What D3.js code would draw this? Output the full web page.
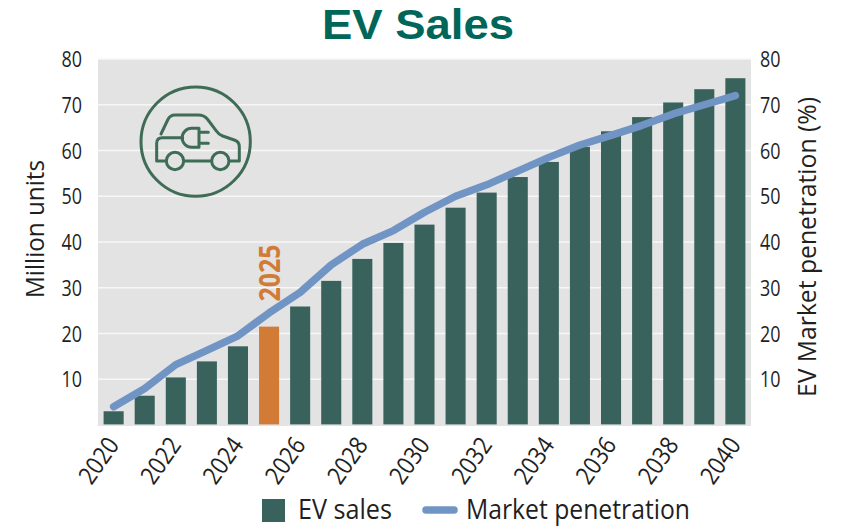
<!DOCTYPE html>
<html><head><meta charset="utf-8">
<script src="https://cdn.jsdelivr.net/npm/d3@7/dist/d3.min.js"></script>
<style>html,body{margin:0;padding:0;background:#fff}svg{display:block}text{font-family:"Open Sans",sans-serif;fill:#1f1f1f}</style>
</head><body><svg id="c" width="844" height="527"></svg>
<script>
const years=[2020,2021,2022,2023,2024,2025,2026,2027,2028,2029,2030,2031,2032,2033,2034,2035,2036,2037,2038,2039,2040];
const evSales=[3,6.4,10.4,13.9,17.2,21.5,25.9,31.5,36.3,39.8,43.8,47.5,50.8,54.2,57.5,60.8,64.2,67.3,70.5,73.4,75.8];
const penetration=[4,8,13.2,16.3,19.5,24.5,29,35,39.5,42.5,46.5,50,52.5,55.5,58.5,61.2,63.3,65.5,68,70,72];
const yTicks=[10,20,30,40,50,60,70,80];
const xTickYears=[2020,2022,2024,2026,2028,2030,2032,2034,2036,2038,2040];
const highlightYear=2025;

const svg=d3.select("#c");
const L=98,R=751,T=59,B=425;
const x=d3.scaleBand().domain(years).range([L,R]).paddingInner(0.355).paddingOuter(0.18);
const y=d3.scaleLinear().domain([0,80]).range([B,T]);
const green="#3a625d",orange="#d27b37",blue="#7095c4";

svg.append("rect").attr("x",L).attr("y",T).attr("width",R-L).attr("height",B-T+1).attr("fill","#e3e3e3");
svg.append("g").selectAll("line").data(yTicks).join("line")
  .attr("x1",L).attr("x2",R).attr("y1",d=>y(d)).attr("y2",d=>y(d)).attr("stroke","#f7f7f7").attr("stroke-width",1.3);

svg.append("g").selectAll("rect").data(years).join("rect")
  .attr("x",d=>x(d)).attr("width",x.bandwidth())
  .attr("y",(d,i)=>y(evSales[i])).attr("height",(d,i)=>y(0)-y(evSales[i]))
  .attr("fill",d=>d===highlightYear?orange:green);
svg.append("line").attr("x1",L).attr("x2",R).attr("y1",B).attr("y2",B).attr("stroke","#e3e3e3").attr("stroke-width",2).attr("stroke-opacity",.6);

const line=d3.line().x(d=>x(d)+x.bandwidth()/2).y((d,i)=>y(penetration[i]));
svg.append("path").datum(years).attr("d",line).attr("fill","none").attr("stroke",blue).attr("stroke-width",7.5).attr("stroke-linecap","round").attr("stroke-linejoin","round");

function yAxis(g,axis,anchor){
  g.call(axis);g.select(".domain").remove();g.selectAll(".tick line").remove();
  g.selectAll("text").attr("font-size",22).attr("fill","#1f1f1f").attr("font-family",'"Open Sans",sans-serif')
   .attr("textLength",20.5).attr("lengthAdjust","spacingAndGlyphs").attr("dy","0.35em").attr("text-anchor",anchor);
}
svg.append("g").attr("transform",`translate(${L},0)`).call(g=>yAxis(g,d3.axisLeft(y).tickValues(yTicks).tickSize(0).tickPadding(16),"end"));
svg.append("g").attr("transform",`translate(${R},0)`).call(g=>yAxis(g,d3.axisRight(y).tickValues(yTicks).tickSize(0).tickPadding(9),"start"));

const xg=svg.append("g").attr("transform",`translate(0,${B})`).call(d3.axisBottom(x).tickValues(xTickYears).tickSize(0).tickFormat(d3.format("d")));
xg.select(".domain").remove();
xg.selectAll("text").attr("font-size",25).attr("fill","#1f1f1f").attr("font-family",'"Open Sans",sans-serif')
  .attr("textLength",50).attr("lengthAdjust","spacingAndGlyphs").attr("text-anchor","end").attr("y",0).attr("dy",0)
  .attr("transform","translate(6.500,20) rotate(-55)");

function label(t,o){
  const e=svg.append("text").text(t).attr("font-size",o.size).attr("font-weight",o.weight||400).attr("text-anchor",o.anchor||"middle")
    .attr("textLength",o.len).attr("lengthAdjust","spacingAndGlyphs").attr("transform",`translate(${o.x},${o.y}) rotate(${o.rot||0})`);
  if(o.fill)e.style("fill",o.fill);if(o.family)e.style("font-family",o.family);return e;
}
label("EV Sales",{x:418,y:38.5,size:42,weight:700,len:192,fill:"#00665a",family:'"Liberation Sans",sans-serif'});
label("Million units",{x:44,y:229,size:26,len:138,rot:-90});
label("EV Market penetration (%)",{x:816,y:247,size:26,len:300,rot:-90});
label(String(highlightYear),{x:x(highlightYear)+x.bandwidth()/2+11,y:273,size:28,weight:700,len:57,rot:-90,fill:orange});

svg.append("rect").attr("x",262).attr("y",499).attr("width",23).attr("height",23).attr("fill",green);
label("EV sales",{x:298,y:519,size:28,len:94,anchor:"start"});
svg.append("line").attr("x1",426).attr("x2",454).attr("y1",510).attr("y2",510).attr("stroke",blue).attr("stroke-width",7.5).attr("stroke-linecap","round");
label("Market penetration",{x:466,y:519,size:28,len:224,anchor:"start"});

const icon=svg.append("g").attr("transform","translate(100,60) scale(0.3333)").attr("fill","none").attr("stroke","#3f6c56").attr("stroke-width",9).attr("stroke-linecap","round").attr("stroke-linejoin","round");
icon.append("circle").attr("cx",287).attr("cy",245).attr("r",164);
icon.append("path").attr("d","M183 222L203 180Q210 165 225 165L295 165Q312 165 322 177L350 214Q356 224 368 228L403 240Q418 245 418 260L418 303L390 303M333 303L253 303M197 303L170 303L170 250Q170 233 187 233L248 233");
icon.append("circle").attr("cx",225).attr("cy",303).attr("r",26);
icon.append("circle").attr("cx",361).attr("cy",303).attr("r",26);
icon.append("path").attr("d","M297 205L275 205A28.500 28.500 0 0 0 275 262L297 262ZM297 217L325 217M297 250L325 250");
</script></body></html>
